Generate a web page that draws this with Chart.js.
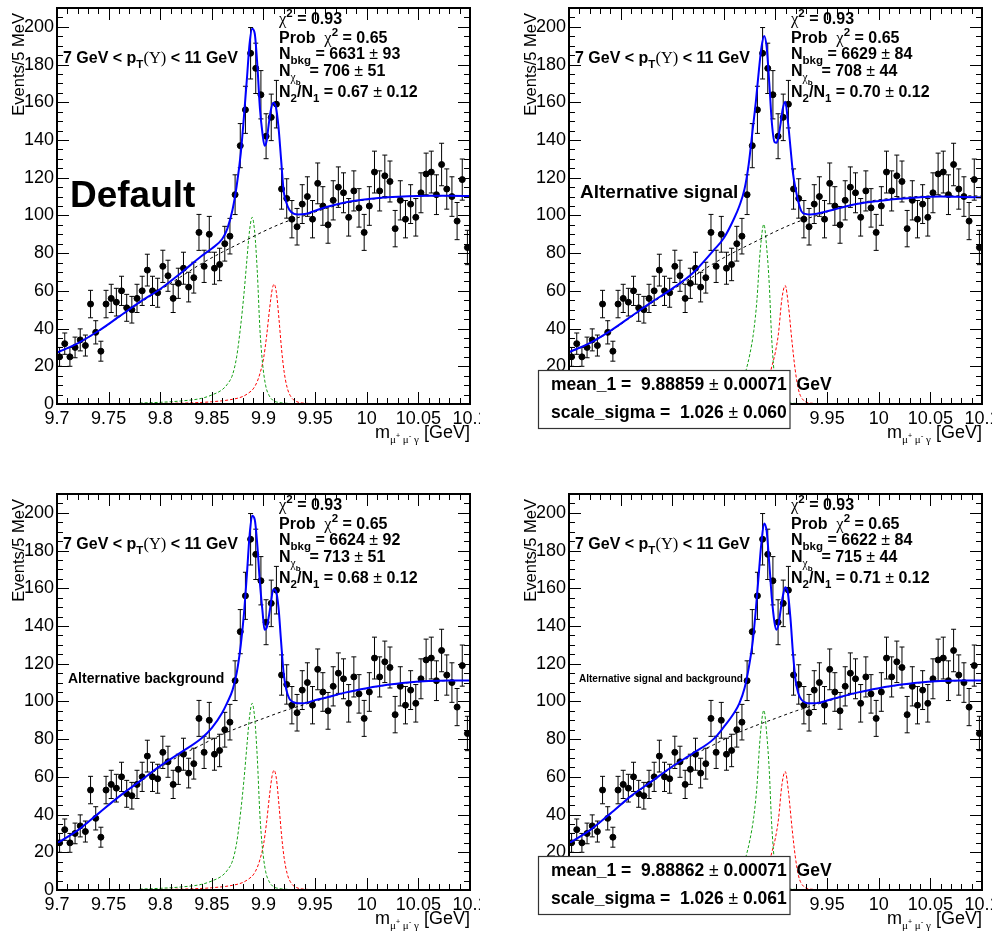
<!DOCTYPE html>
<html>
<head>
<meta charset="utf-8">
<script src="https://cdn.jsdelivr.net/npm/chart.js@4.4.0/dist/chart.umd.min.js"></script>
<style>
body{margin:0;background:#fff;width:992px;height:935px;position:relative;overflow:hidden}
canvas{position:absolute}
</style>
</head>
<body>
<canvas id="c0" width="480" height="486" style="left:0;top:0"></canvas>
<canvas id="c1" width="480" height="486" style="left:512px;top:0"></canvas>
<canvas id="c2" width="480" height="449" style="left:0;top:486px"></canvas>
<canvas id="c3" width="480" height="449" style="left:512px;top:486px"></canvas>
<script>
// histogram: 5 MeV bins from 9.70 to 10.10 GeV
var binLow = 9.7, binWidth = 0.005;
var counts = [25,32,25,30,34,31,53,38,28,53, 56,54,60,51,50,56,60,71,60,59,
              73,68,56,64,72,62,67,91,73,90, 72,74,85,89,111,137,156,186,178,164,
              142,152,159,114,109,98,94,106,110,98, 117,105,95,108,115,112,99,113,104,91,
              105,123,113,121,118,93,108,98,106,99, 112,122,123,111,127,114,110,97,119,83];

// total fit curves, sampled on fitX
var fitX = [9.70,9.72,9.74,9.76,9.78,9.80,9.82,9.84,9.85,9.86,9.865,9.87,9.874,9.878,9.881,9.884,9.8865,9.889,9.8915,9.894,
            9.8965,9.899,9.901,9.903,9.905,9.907,9.9095,9.912,9.9145,9.917,9.9195,9.922,9.925,9.929,9.934,9.94,9.95,9.96,9.98,10.0,
            10.02,10.04,10.06,10.08,10.1];
var totDefault = [27.3,32.2,38.7,46.3,54,61,69.5,78.5,82.5,87.5,93,103,115.6,133,152,173,191,199,196.5,180,
                  157,143.5,137,139.5,148,155.5,159.8,157.5,147,130,113,107,103,101,100.5,100.7,102.5,104.3,107,108.6,
                  109.6,110.2,110.4,110.4,110.3];
var totAltSig = [27.5,32.3,38.8,46.4,54,61.2,69.5,81.5,88,98.5,105,114,127,146,160.5,177.5,189.5,195.2,189,170,
                 149,139,138.5,142,149,156.5,160.3,150,136,122,114,107.5,102.3,100.8,100.5,100.9,102.2,103.6,106.2,107.7,
                 108.8,109.7,110,109.8,109.5];
var totAltBkg = [24.8,31.6,40.5,49.5,57.6,65.8,73,80.5,86,94,99.5,106,115,130,146,168,188,198.5,196.5,183,
                 163,148,138,139,144.5,151.5,159.5,158.5,150,132,115,106.5,101.5,99.6,99,99.1,100.7,102,104.8,107,
                 108.8,110,110.8,111.1,111.1];
var totAltBoth = [24.8,31.6,40.5,49.8,57.6,65.5,72.5,80,86.5,94,99,107,117.5,132,149,169,185,194.3,190,173,
                  154.5,142,138,141,148.5,155.5,160.5,157.5,144,125,111,104.5,101,99.4,99,99.1,100.5,102,104.8,107,
                  108.8,110,110.8,111.1,111.1];

// background components
var bkgX = [9.70,9.72,9.74,9.76,9.78,9.80,9.82,9.84,9.86,9.88,9.90,9.92,9.94,9.96,9.98,10.0,10.02,10.04,10.06,10.08,10.1];
var bkgDefault = [27.3,32,38.5,46,53.5,60.5,67.5,74.5,80.5,86,91.5,96.3,100,103.6,106.5,108.3,109.4,110.1,110.4,110.4,110.3];
var bkgAlt = [24.8,31.5,40.5,49.3,57.3,65,71.5,77,82.5,87,91,95,98.4,101.7,104.6,106.9,108.7,109.9,110.7,111,111.1];

// signal components, default shape
var sig1X = [9.78,9.80,9.82,9.84,9.85,9.86,9.865,9.87,9.874,9.878,9.881,9.884,9.8865,9.889,9.8915,9.894,9.8965,9.899,9.902,9.905,9.909,9.915,9.925,9.94];
var sig1Default = [0.5,0.9,1.6,3.0,4.8,7.6,10.5,15.5,25,42,58,77,92,99,91,70,40,22,10,5,2,0.8,0.3,0.1];
var sig2X = [9.80,9.83,9.85,9.87,9.88,9.886,9.89,9.894,9.897,9.90,9.903,9.906,9.9085,9.9103,9.9125,9.915,9.9175,9.92,9.923,9.927,9.932,9.94,9.96];
var sig2Default = [0.3,0.6,1.2,2.5,4,6,8,12,17,24,36,51,61,63.5,59,45,29,17,8.5,3.5,1.3,0.4,0.1];

// signal components, alternative shape
var sig1AltX = [9.84,9.855,9.862,9.867,9.871,9.875,9.879,9.882,9.885,9.8887,9.8916,9.894,9.896,9.898,9.90,9.903,9.907,9.915,9.93];
var sig1Alt = [0.5,2,5,10,17,26,39,55,80,95.3,82,63,38,21,10,3.5,1.2,0.5,0.1];
var sig2AltX = [9.87,9.885,9.893,9.8965,9.8997,9.9029,9.9061,9.9094,9.9126,9.9158,9.9191,9.9223,9.9271,9.9352,9.95];
var sig2Alt = [1,5,13,20,27,37.6,55.4,62.8,51.8,34,18,7.5,2,0.4,0.1];

var panels = [
  {id:'c0', total:totDefault, bkg:bkgDefault, s1x:sig1X, s1:sig1Default, s2x:sig2X, s2:sig2Default,
   nbkg:['6631','93'], nchi:['706','51'], ratio:['0.67','0.12'],
   tag:'Default', tagFont:'bold 37px "Liberation Sans"', tagX:70, tagY:207, box:null},
  {id:'c1', total:totAltSig, bkg:bkgDefault, s1x:sig1AltX, s1:sig1Alt, s2x:sig2AltX, s2:sig2Alt,
   nbkg:['6629','84'], nchi:['708','44'], ratio:['0.70','0.12'],
   tag:'Alternative signal', tagFont:'bold 19px "Liberation Sans"', tagX:68, tagY:198,
   box:['9.88859','0.00071','1.026','0.060']},
  {id:'c2', total:totAltBkg, bkg:bkgAlt, s1x:sig1X, s1:sig1Default, s2x:sig2X, s2:sig2Default,
   nbkg:['6624','92'], nchi:['713','51'], ratio:['0.68','0.12'],
   tag:'Alternative background', tagFont:'bold 14px "Liberation Sans"', tagX:68, tagY:197, box:null},
  {id:'c3', total:totAltBoth, bkg:bkgAlt, s1x:sig1AltX, s1:sig1Alt, s2x:sig2AltX, s2:sig2Alt,
   nbkg:['6622','84'], nchi:['715','44'], ratio:['0.71','0.12'],
   tag:'Alternative signal and background', tagFont:'bold 10px "Liberation Sans"', tagX:67, tagY:196,
   box:['9.88862','0.00071','1.026','0.061']}
];

var SANS = '"Liberation Sans", Arial, sans-serif';
var SERIF = '"Liberation Serif", "DejaVu Serif", serif';

function pairs(xs, ys) {
  return xs.map(function(x, i) { return {x: x, y: ys[i]}; });
}

function rich(ctx, x, y, parts) {
  parts.forEach(function(p) {
    ctx.font = p[1];
    ctx.fillText(p[0], x, y + (p[2] || 0));
    x += ctx.measureText(p[0]).width;
  });
  return x;
}

function richWidth(ctx, parts) {
  var w = 0;
  parts.forEach(function(p) { ctx.font = p[1]; w += ctx.measureText(p[0]).width; });
  return w;
}

var B = 'bold 16px ' + SANS, Bs = 'bold 11.5px ' + SANS, Bss = 'bold 8px ' + SANS;
var PM = '16px ' + SANS, CHI = '16.5px ' + SERIF, CHIs = '11.5px ' + SERIF;

var rootStyle = {
  id: 'rootStyle',
  beforeDatasetsDraw: function(chart) {
    // vertical error bars with small end caps
    var ctx = chart.ctx, xs = chart.scales.x, ys = chart.scales.y;
    ctx.save();
    ctx.strokeStyle = '#000';
    ctx.lineWidth = 1;
    counts.forEach(function(c, k) {
      var px = xs.getPixelForValue(binLow + (k + 0.5) * binWidth);
      var e = Math.sqrt(c);
      var y1 = ys.getPixelForValue(c - e), y2 = ys.getPixelForValue(c + e);
      ctx.beginPath();
      ctx.moveTo(px, y1); ctx.lineTo(px, y2);
      ctx.moveTo(px - 2.5, y1); ctx.lineTo(px + 2.5, y1);
      ctx.moveTo(px - 2.5, y2); ctx.lineTo(px + 2.5, y2);
      ctx.stroke();
    });
    ctx.restore();
  },
  afterDatasetsDraw: function(chart) {
    // frame with inward ticks on all four sides
    var ctx = chart.ctx, a = chart.chartArea, xs = chart.scales.x, ys = chart.scales.y;
    ctx.save();
    ctx.strokeStyle = '#000';
    ctx.lineWidth = 1;
    ctx.beginPath();
    for (var v = 0; v <= 210; v += 5) {
      var len = v % 20 === 0 ? 12 : 6;
      var py = Math.round(ys.getPixelForValue(v)) + 0.5;
      ctx.moveTo(a.left, py); ctx.lineTo(a.left + len, py);
      ctx.moveTo(a.right, py); ctx.lineTo(a.right - len, py);
    }
    for (var k = 0; k <= 40; k++) {
      var l2 = k % 5 === 0 ? 12 : 6;
      var px = Math.round(xs.getPixelForValue(9.7 + k * 0.01)) + 0.5;
      ctx.moveTo(px, a.bottom); ctx.lineTo(px, a.bottom - l2);
      ctx.moveTo(px, a.top); ctx.lineTo(px, a.top + l2);
    }
    ctx.stroke();
    ctx.lineWidth = 2;
    ctx.strokeRect(a.left, a.top, a.right - a.left, a.bottom - a.top);
    ctx.restore();
  },
  afterDraw: function(chart) {
    var ctx = chart.ctx, p = chart.options.plugins.rootStyle.panel;
    ctx.save();
    ctx.fillStyle = '#000';
    ctx.textBaseline = 'alphabetic';
    ctx.textAlign = 'left';

    // axis titles
    ctx.save();
    ctx.translate(23.5, 13);
    ctx.rotate(-Math.PI / 2);
    ctx.textAlign = 'right';
    ctx.font = '16.5px ' + SANS;
    ctx.fillText('Events/5 MeV', 0, 0);
    ctx.restore();

    var xt = [['m', '18px ' + SANS], ['\u03bc', '11px ' + SERIF, 5], ['+', '7px ' + SANS, 0], [' \u03bc', '11px ' + SERIF, 5],
              ['-', '8px ' + SANS, 0], [' \u03b3', '11px ' + SERIF, 5], [' [GeV]', '18px ' + SANS]];
    rich(ctx, 470 - richWidth(ctx, xt), 438, xt);

    // kinematic range
    rich(ctx, 63, 63, [['7 GeV < p', B], ['T', Bs, 4.5], ['(', '16.5px ' + SERIF], ['\u03a5', '16.5px ' + SERIF], [')', '16.5px ' + SERIF], [' < 11 GeV', B]]);

    // fit summary
    var sx = 279;
    rich(ctx, sx, 24, [['\u03c7', CHI], ['2', Bs, -7], [' = 0.93', B]]);
    rich(ctx, sx, 42.7, [['Prob  ', B], ['\u03c7', CHI], ['2', Bs, -7], [' = 0.65', B]]);
    rich(ctx, sx, 59.3, [['N', B], ['bkg', Bs, 4.5], [' = ' + p.nbkg[0] + ' ', B], ['\u00b1', PM], [' ' + p.nbkg[1], B]]);
    rich(ctx, sx, 76, [['N', B], ['\u03c7', CHIs, 5], ['b', Bss, 9], ['  = ' + p.nchi[0] + ' ', B], ['\u00b1', PM], [' ' + p.nchi[1], B]]);
    rich(ctx, sx, 97.3, [['N', B], ['2', Bs, 4.5], ['/', B], ['N', B], ['1', Bs, 4.5], [' = ' + p.ratio[0] + ' ', B], ['\u00b1', PM], [' ' + p.ratio[1], B]]);

    ctx.font = p.tagFont;
    ctx.fillText(p.tag, p.tagX, p.tagY);

    if (p.box) {
      ctx.fillStyle = '#fff';
      ctx.fillRect(26.5, 370.5, 251.5, 58);
      ctx.strokeStyle = '#333';
      ctx.lineWidth = 1.2;
      ctx.strokeRect(26.5, 370.5, 251.5, 58);
      ctx.fillStyle = '#000';
      var F = 'bold 17.5px ' + SANS, FP = '17.5px ' + SANS;
      rich(ctx, 39, 389.5, [['mean_1 =  ' + p.box[0] + ' ', F], ['\u00b1', FP], [' ' + p.box[1] + '  GeV', F]]);
      rich(ctx, 39, 418.3, [['scale_sigma =  ' + p.box[2] + ' ', F], ['\u00b1', FP], [' ' + p.box[3], F]]);
    }
    ctx.restore();
  }
};

function makeChart(p) {
  var cv = document.getElementById(p.id);
  var H = cv.height;
  var points = counts.map(function(c, k) { return {x: binLow + (k + 0.5) * binWidth, y: c}; });
  var curve = {type: 'line', pointRadius: 0, borderWidth: 1, fill: false, cubicInterpolationMode: 'monotone'};
  return new Chart(cv, {
    type: 'scatter',
    data: {
      datasets: [
        Object.assign({}, curve, {data: pairs(fitX, p.total), borderColor: '#0000ff', borderWidth: 2, order: 0}),
        Object.assign({}, curve, {data: pairs(bkgX, p.bkg), borderColor: '#000', borderDash: [3, 3], order: 1}),
        Object.assign({}, curve, {data: pairs(p.s1x, p.s1), borderColor: '#14a014', borderDash: [3, 2], order: 2}),
        Object.assign({}, curve, {data: pairs(p.s2x, p.s2), borderColor: '#ff0000', borderDash: [3, 2], order: 3}),
        {data: points, backgroundColor: '#000', borderColor: '#000', pointRadius: 3, pointHoverRadius: 3, order: 4}
      ]
    },
    options: {
      responsive: false,
      animation: false,
      devicePixelRatio: 1,
      events: [],
      layout: {padding: {left: 0, top: 8, right: 10, bottom: 0}},
      plugins: {legend: {display: false}, tooltip: {enabled: false}, rootStyle: {panel: p}},
      scales: {
        x: {
          type: 'linear', min: 9.7, max: 10.1,
          grid: {display: false, drawTicks: false}, border: {display: false},
          ticks: {stepSize: 0.05, autoSkip: false, maxRotation: 0, padding: 4, color: '#000',
                  font: {family: 'Liberation Sans', size: 18},
                  callback: function(v) { return String(Math.round(v * 100) / 100); }},
          afterFit: function(s) { s.height = H - 404; s.paddingLeft = 0; s.paddingRight = 0; }
        },
        y: {
          min: 0, max: 210,
          grid: {display: false, drawTicks: false}, border: {display: false},
          ticks: {stepSize: 20, includeBounds: false, padding: 3, color: '#000',
                  font: {family: 'Liberation Sans', size: 18}},
          afterFit: function(s) { s.width = 57; s.paddingTop = 0; s.paddingBottom = 0; }
        }
      }
    },
    plugins: [rootStyle]
  });
}

panels.forEach(makeChart);
</script>
</body>
</html>
